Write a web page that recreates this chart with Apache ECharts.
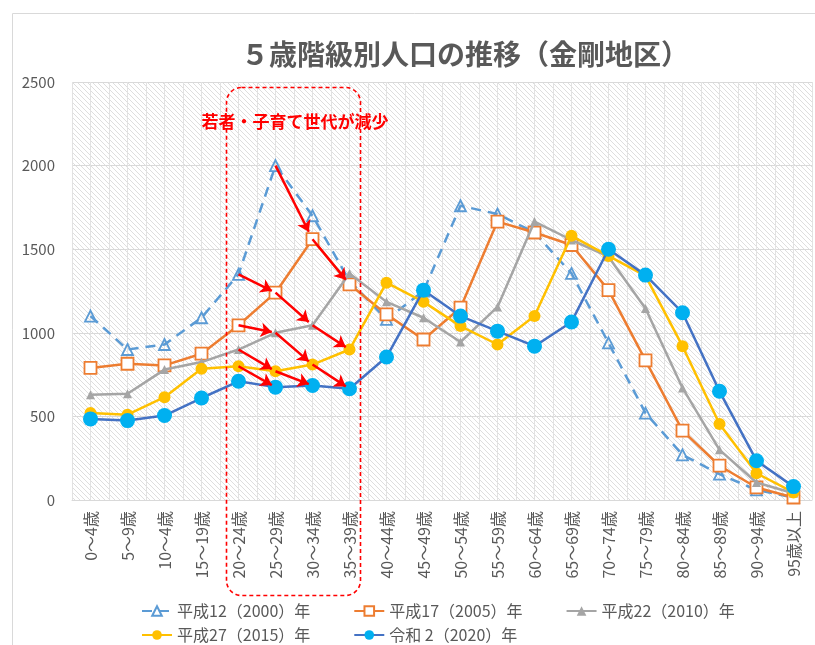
<!DOCTYPE html>
<html>
<head>
<meta charset="utf-8">
<script src="https://cdn.jsdelivr.net/npm/echarts@6/dist/echarts.min.js"></script>
<style>
html, body { margin: 0; padding: 0; background: #fff; }
#chart { width: 815px; height: 645px; }
</style>
</head>
<body>
<div id="chart"></div>
<script>
// 年齢区分
var categories = ['0～4歳', '5～9歳', '10～4歳', '15～19歳', '20～24歳', '25～29歳', '30～34歳', '35～39歳',
    '40～44歳', '45～49歳', '50～54歳', '55～59歳', '60～64歳', '65～69歳', '70～74歳', '75～79歳',
    '80～84歳', '85～89歳', '90～94歳', '95歳以上'];

// 各年の人口
var pop2000 = [1100, 900, 930, 1090, 1350, 2000, 1700, 1310, 1080, 1250, 1760, 1710, 1600, 1355, 940, 520, 270, 155, 60, 15];
var pop2005 = [790, 815, 805, 875, 1045, 1240, 1560, 1290, 1110, 960, 1150, 1665, 1600, 1525, 1255, 835, 415, 205, 75, 15];
var pop2010 = [630, 635, 780, 825, 900, 1000, 1045, 1355, 1185, 1090, 945, 1155, 1665, 1555, 1455, 1145, 670, 300, 105, 40];
var pop2015 = [520, 510, 615, 785, 800, 770, 810, 900, 1300, 1185, 1040, 930, 1100, 1580, 1460, 1340, 920, 455, 160, 45];
var pop2020 = [485, 475, 505, 610, 710, 675, 685, 665, 855, 1255, 1100, 1010, 920, 1065, 1500, 1345, 1120, 650, 235, 80];

var seriesNames = ['平成12（2000）年', '平成17（2005）年', '平成22（2010）年', '平成27（2015）年', '令和 2（2020）年'];

var yTicks = [0, 500, 1000, 1500, 2000, 2500];

// 矢印 [開始区分, 開始値, 終了区分, 終了値]
var arrows = [
    [5, 2000, 6, 1560], [6, 1560, 7, 1290],
    [4, 1350, 5, 1240], [5, 1240, 6, 1045], [6, 1045, 7, 900],
    [4, 1045, 5, 1000], [5, 1000, 6, 810], [6, 810, 7, 665],
    [4, 900, 5, 770], [5, 770, 6, 685],
    [4, 800, 5, 675]
];

var FONT = '"Noto Sans CJK JP", "Noto Sans", sans-serif';
var TXT = '#595959';

// 斜線パターン
function makeHatch() {
    var s = 5;
    var c = document.createElement('canvas');
    c.width = s; c.height = s;
    var ctx = c.getContext('2d');
    ctx.fillStyle = '#ffffff';
    ctx.fillRect(0, 0, s, s);
    ctx.strokeStyle = '#dedede';
    ctx.lineWidth = 1;
    ctx.beginPath();
    ctx.moveTo(-1, -1); ctx.lineTo(s + 1, s + 1);
    ctx.moveTo(s - 1, -1); ctx.lineTo(s + 1, 1);
    ctx.moveTo(-1, s - 1); ctx.lineTo(1, s + 1);
    ctx.stroke();
    return c;
}

var arrowData = arrows.map(function (a) {
    var t = 0.9;
    return {
        coords: [[a[0], a[1]], [a[0] + t * (a[2] - a[0]), a[1] + t * (a[3] - a[1])]]
    };
});

var chart = echarts.init(document.getElementById('chart'));

var legendCommon = {
    left: 136,
    itemWidth: 30, itemHeight: 12, itemGap: 43,
    textStyle: { fontSize: 16, color: TXT, fontFamily: FONT }
};

var option = {
    animation: false,
    textStyle: { fontFamily: FONT },
    title: {
        text: '５歳階級別人口の推移（金剛地区）',
        left: 236,
        top: 35,
        textStyle: { fontSize: 28, fontWeight: 'bold', color: TXT, fontFamily: FONT }
    },
    grid: {
        left: 72, right: 3, top: 82, bottom: 145,
        show: true,
        borderWidth: 0,
        backgroundColor: { image: makeHatch(), repeat: 'repeat' }
    },
    legend: [
        Object.assign({ data: seriesNames.slice(0, 3), top: 598 }, legendCommon),
        Object.assign({ data: seriesNames.slice(3), top: 622 }, legendCommon)
    ],
    xAxis: [{
        type: 'category',
        data: categories,
        boundaryGap: true,
        axisLine: { lineStyle: { color: '#d9d9d9' } },
        axisTick: { show: false },
        axisLabel: { rotate: 90, fontSize: 16, color: TXT, margin: 11, interval: 0, fontFamily: FONT },
        splitLine: { show: false }
    }, {
        // 縦の補助線・矢印用
        type: 'value',
        min: -0.5, max: 19.5, interval: 0.5,
        position: 'bottom',
        axisLine: { show: false },
        axisTick: { show: false },
        axisLabel: { show: false },
        splitLine: { show: true, lineStyle: { color: '#e2e2e2', width: 1 } }
    }],
    yAxis: {
        type: 'value',
        min: yTicks[0], max: yTicks[yTicks.length - 1], interval: 500,
        axisLine: { show: false },
        axisTick: { show: false },
        axisLabel: {
            fontSize: 15, color: TXT, margin: 17, fontFamily: FONT,
            formatter: function (v) { return String(v); }
        },
        splitLine: { lineStyle: { color: '#d9d9d9' } }
    },
    series: [{
        name: seriesNames[0],
        type: 'line',
        data: pop2000,
        symbol: 'triangle', symbolSize: 11,
        lineStyle: { color: '#5B9BD5', width: 2.5, type: [10, 7] },
        itemStyle: { color: 'rgba(255,255,255,0)', borderColor: '#5B9BD5', borderWidth: 1.8 },
        z: 2
    }, {
        name: seriesNames[1],
        type: 'line',
        data: pop2005,
        symbol: 'rect', symbolSize: 12,
        lineStyle: { color: '#ED7D31', width: 2.5 },
        itemStyle: { color: '#ffffff', borderColor: '#ED7D31', borderWidth: 1.8 },
        z: 3
    }, {
        name: seriesNames[2],
        type: 'line',
        data: pop2010,
        symbol: 'triangle', symbolSize: 9,
        lineStyle: { color: '#A5A5A5', width: 2.5 },
        itemStyle: { color: '#A5A5A5' },
        z: 4
    }, {
        name: seriesNames[3],
        type: 'line',
        data: pop2015,
        symbol: 'circle', symbolSize: 12,
        lineStyle: { color: '#FFC000', width: 2.5 },
        itemStyle: { color: '#FFC000' },
        z: 5
    }, {
        name: seriesNames[4],
        type: 'line',
        data: pop2020,
        symbol: 'circle', symbolSize: 15,
        lineStyle: { color: '#4472C4', width: 2.5 },
        itemStyle: { color: '#00B0F0' },
        z: 6
    }, {
        type: 'lines',
        coordinateSystem: 'cartesian2d',
        xAxisIndex: 1,
        yAxisIndex: 0,
        data: arrowData,
        symbol: ['none', 'arrow'],
        symbolSize: 11,
        lineStyle: { color: '#FF0000', width: 2.5, opacity: 1, curveness: 0 },
        silent: true,
        z: 7
    }],
    graphic: [{
        type: 'rect',
        shape: { x: 12.5, y: 13.5, width: 830, height: 660 },
        style: { fill: 'none', stroke: '#d9d9d9', lineWidth: 1 },
        silent: true,
        z: -10
    }, {
        type: 'rect',
        shape: { x: 226.5, y: 87.5, width: 134, height: 508, r: 15 },
        style: { fill: 'none', stroke: '#FF0000', lineWidth: 1.6, lineDash: [4, 3] },
        silent: true,
        z: 100
    }, {
        type: 'text',
        x: 295, y: 122,
        style: {
            text: '若者・子育て世代が減少',
            fill: '#FF0000',
            font: 'bold 17px ' + FONT,
            textAlign: 'center',
            textVerticalAlign: 'middle'
        },
        silent: true,
        z: 100
    }]
};

chart.setOption(option);
</script>
</body>
</html>
